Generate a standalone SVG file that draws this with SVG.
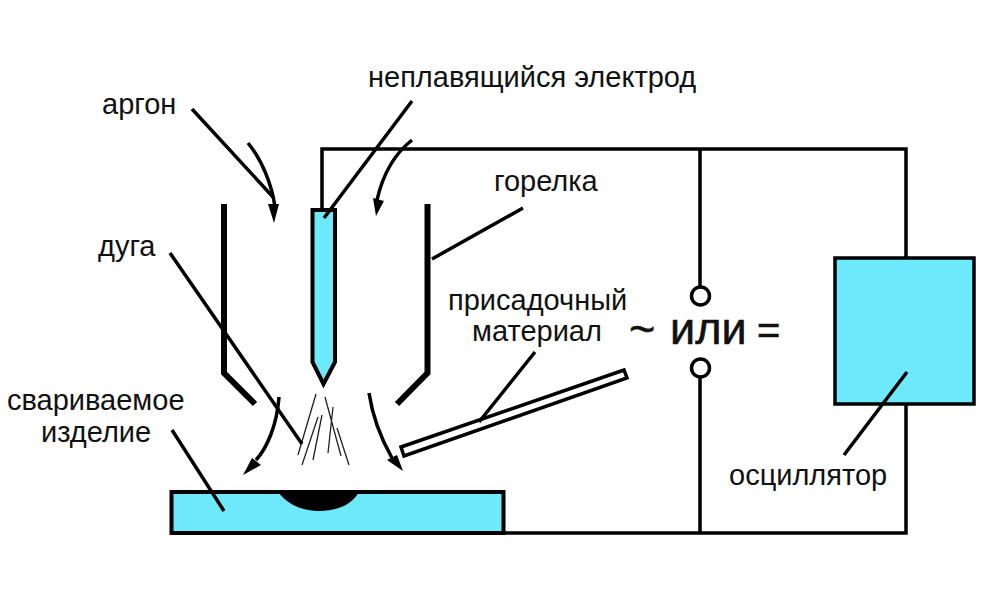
<svg xmlns="http://www.w3.org/2000/svg" width="994" height="596" viewBox="0 0 994 596">
<style>
text{font-family:"Liberation Sans",Arial,sans-serif;font-size:29px;fill:#111}
.w{fill:none;stroke:#000;stroke-width:3.5}
.o{fill:#fff;stroke:#000;stroke-width:3.5}
.l{fill:none;stroke:#000;stroke-width:3.5}
.t{fill:none;stroke:#000;stroke-width:6}
.a{fill:none;stroke:#000;stroke-width:3.5}
.h{fill:#000;stroke:none}
.s{fill:none;stroke:#222;stroke-width:1.3}
.c{fill:#6de9fb;stroke:#000}
</style>
<rect width="994" height="596" fill="#fff"/>
<g id="circuit">
<path class="w" d="M322 212V149H906V258M906 404V533H504M700 149V288M700 377V533"/>
<circle class="o" cx="700.500" cy="296" r="9"/>
<circle class="o" cx="700.500" cy="368" r="9"/>
</g>
<g id="oscillator">
<rect class="c" x="835" y="258" width="139" height="146" stroke-width="3.500"/>
</g>
<g id="workpiece">
<rect class="c" x="171.500" y="492" width="332" height="41" stroke-width="4"/>
<path d="M278 492H359C351 506 335 511 319 511C303 511 288 505 278 492Z" fill="#000"/>
</g>
<g id="electrode">
<path class="c" stroke-width="4" d="M312.500 210H335V362L323.500 384L312.500 362Z"/>
</g>
<g id="torch">
<path class="t" d="M224 204V373L255 404"/>
<path class="t" d="M427.500 204V373L397 404"/>
</g>
<g id="arc">
<path class="s" d="M316 394L298 455M318 417L302 465M322 415L313 460M325 397L341 456M333 407L328 453M337 428L349 465"/>
</g>
<g id="filler">
<path d="M401 447L624 370L627 378L404 456Z" fill="#fff" stroke="#000" stroke-width="3.500"/>
</g>
<g id="connectors">
<path class="a" d="M248 143C262 160 272 185 275 207"/><path class="h" d="M268 204L279 204L274 223Z"/>
<path class="a" d="M412 140C393 155 382 178 377 200"/><path class="h" d="M373 198L384 201L376 216Z"/>
<path class="a" d="M279 397C277 425 267 448 256 460"/><path class="h" d="M243 475L252 458L261 465Z"/>
<path class="a" d="M369 393C373 420 383 442 392 458"/><path class="h" d="M403 471L387 460L397 455Z"/>
<path class="l" d="M192 109L273 197M412 101L324 218M432 259L523 208M170 253L302 444M172 430L224 511M535 352L479 422M844 455L907 372"/>
</g>
<g id="labels">
<text x="102" y="114">аргон</text>
<text x="368" y="87">неплавящийся электрод</text>
<text x="494" y="191">горелка</text>
<text x="98" y="256">дуга</text>
<text x="448" y="310">присадочный</text>
<text x="472" y="341">материал</text>
<text x="7" y="410">свариваемое</text>
<text x="41" y="442">изделие</text>
<text x="729" y="485">осциллятор</text>
<text y="344" style="font-size:45px;stroke:#111;stroke-width:.6"><tspan x="629">~</tspan><tspan x="670">или</tspan><tspan x="757" style="font-size:40px">=</tspan></text>
</g>
</svg>
